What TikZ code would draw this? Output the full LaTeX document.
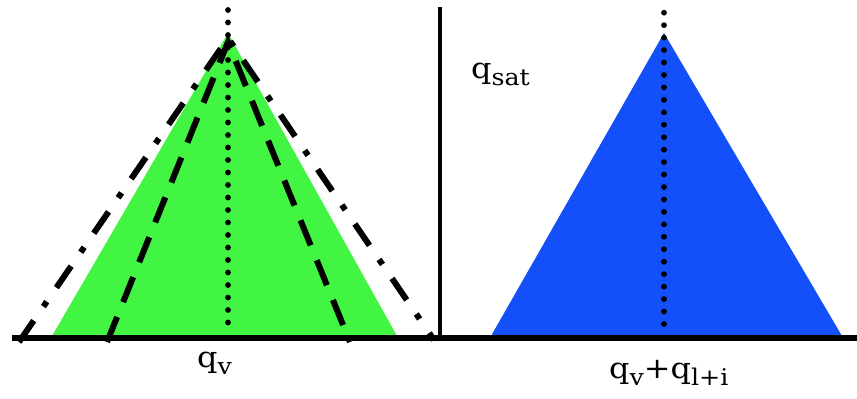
\documentclass[tikz,border=0pt]{standalone}
\usepackage{fontspec}
\setmainfont[FakeStretch=1.1]{DejaVu Serif}
\definecolor{vgreen}{RGB}{66,245,66}
\definecolor{vblue}{RGB}{20,80,250}
\newcommand{\qsub}[1]{\raisebox{-7pt}{\fontsize{23}{23}\selectfont #1}}
\begin{document}
\begin{tikzpicture}[x=1pt,y=-1pt,
  axisline/.style={draw=black,line width=5.5pt},
  dashline/.style={draw=black,line width=6pt,dash pattern=on 27pt off 16pt},
  dashdotline/.style={draw=black,line width=6pt,dash pattern=on 26pt off 17pt on 6pt off 17pt},
  dotline/.style={draw=black,line width=5.8pt,line cap=round,dash pattern=on 0pt off 12.5pt},
  lbl/.style={inner sep=0pt,anchor=base west,font=\fontsize{29}{31}\selectfont}]
\useasboundingbox (0,0) rectangle (857,399);
% coordinates
\coordinate (gA) at (228,33);
\coordinate (gL) at (52,336);
\coordinate (gR) at (397,336);
\coordinate (bA) at (664,33);
\coordinate (bL) at (491,336);
\coordinate (bR) at (842,336);
\coordinate (dA) at (228,42);
\coordinate (dL) at (107,342);
\coordinate (dR) at (350,342);
\coordinate (ddA) at (228,38);
\coordinate (ddL) at (19,342);
\coordinate (ddR) at (434,340);
% fills
\fill[vgreen] (gL) -- (gA) -- (gR) -- cycle;
\fill[vblue] (bL) -- (bA) -- (bR) -- cycle;
% outlines
\draw[dashdotline] (ddL) -- (ddA) -- (ddR);
\draw[dashline] (dL) -- (dA) -- (dR);
% dotted centre lines
\coordinate (gT) at (228,10);
\coordinate (gB) at (228,324);
\coordinate (bT) at (664,12.7);
\coordinate (bB) at (664,325);
\draw[dotline] (gT) -- (gB);
\draw[dotline,dash pattern=on 0pt off 12.45pt] (bT) -- (bB);
% axes
\coordinate (xL) at (12,338);
\coordinate (xR) at (857,338);
\coordinate (yT) at (440,7);
\coordinate (yB) at (440,338);
\draw[axisline] (xL) -- (xR);
\draw[axisline,line width=4pt] (yT) -- (yB);
% labels
\node[lbl] (lqv) at (197,367) {q\qsub{v}};
\node[lbl] (lqsat) at (471,78) {q\qsub{sat}};
\node[lbl] (lsum) at (609,378) {q\qsub{v}+q\qsub{l+i}};
\end{tikzpicture}
\end{document}
